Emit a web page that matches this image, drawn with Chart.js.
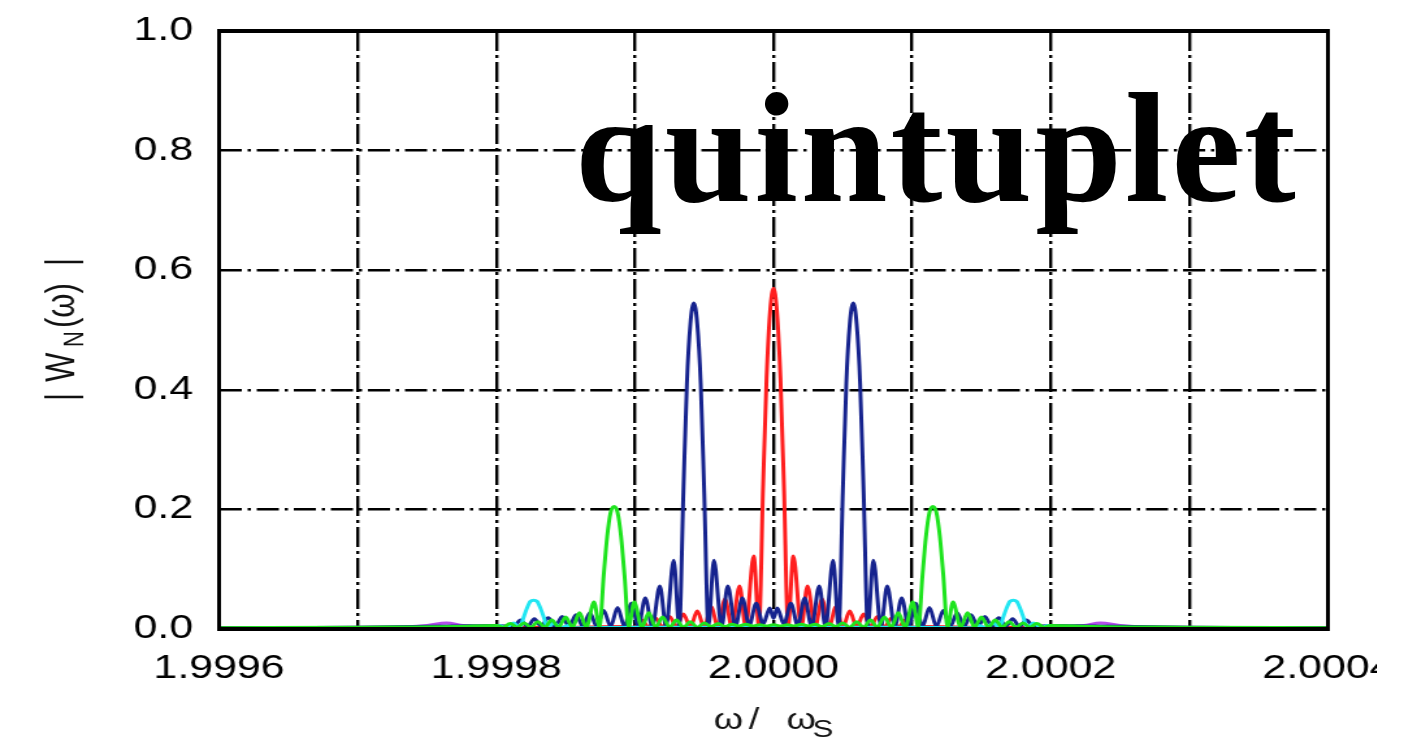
<!DOCTYPE html>
<html>
<head>
<meta charset="utf-8">
<script src="https://cdn.jsdelivr.net/npm/chart.js@4.4.1/dist/chart.umd.min.js"></script>
<style>
  html, body { margin: 0; padding: 0; background: #fff; overflow: hidden; }
  #wrap { position: relative; width: 1421px; height: 747px; overflow: hidden; background: #fff; }
  #c { position: absolute; left: 0; top: 0; transform: scaleX(1.3); transform-origin: 0 0; }
  #tag { position: absolute; left: 575px; top: 71px; font: bold 156px "Liberation Serif", serif;
         line-height: 1; color: #000; letter-spacing: 3px; white-space: nowrap; }
</style>
</head>
<body>
<div id="wrap">
  <canvas id="c" width="1059" height="747"></canvas>
  <div id="tag">quintuplet</div>
</div>
<script>
// Grid positions along ω/ωS and the labels printed under them
const xGridValues = [1.9996, 1.9997, 1.9998, 1.9999, 2.0000, 2.0001, 2.0002, 2.0003, 2.0004];
const xGridLabels = ["1.9996", "", "1.9998", "", "2.0000", "", "2.0002", "", "2.0004"];
const yTickValues = [0.0, 0.2, 0.4, 0.6, 0.8, 1.0];

// |W_N(ω)| for the five components of the quintuplet, as [ω/ωS, value]
const centralLine = [
  [1.99960,0.002],[1.99975,0.002],[1.99985,0.003],[1.999895,0.004],
  [1.999900,0.003],[1.999905,0.015],[1.999910,0.003],[1.999915,0.018],[1.999920,0.003],
  [1.999925,0.021],[1.999930,0.003],[1.999935,0.025],[1.999940,0.003],[1.999945,0.030],
  [1.999950,0.003],[1.999955,0.037],[1.999960,0.003],[1.999965,0.050],[1.999970,0.003],
  [1.9999755,0.072],[1.999980,0.003],[1.9999857,0.122],[1.9999895,0.003],
  [1.9999925,0.24],[1.999995,0.42],[1.9999975,0.53],[2.000000,0.57],
  [2.0000025,0.53],[2.000005,0.42],[2.0000075,0.24],
  [2.0000105,0.003],[2.0000143,0.122],[2.000020,0.003],[2.0000245,0.072],[2.000030,0.003],
  [2.000035,0.050],[2.000040,0.003],[2.000045,0.037],[2.000050,0.003],[2.000055,0.030],
  [2.000060,0.003],[2.000065,0.025],[2.000070,0.003],[2.000075,0.021],[2.000080,0.003],
  [2.000085,0.018],[2.000090,0.003],[2.000095,0.015],[2.000100,0.003],
  [2.000105,0.004],[2.00015,0.003],[2.00025,0.002],[2.00040,0.002]
];

const innerPair = [
  [1.99960,0.002],[1.99970,0.003],[1.99977,0.005],[1.99980,0.006],
  [1.9998125,0.004],[1.9998175,0.015],[1.9998225,0.004],[1.9998275,0.017],[1.9998325,0.004],
  [1.9998375,0.019],[1.9998425,0.004],[1.9998475,0.021],[1.9998525,0.004],[1.9998575,0.024],
  [1.9998625,0.004],[1.9998675,0.027],[1.9998725,0.004],[1.9998775,0.031],[1.9998825,0.004],
  [1.9998875,0.036],[1.9998925,0.004],[1.9998975,0.043],[1.9999025,0.004],[1.9999075,0.052],
  [1.9999125,0.004],[1.9999180,0.072],[1.9999225,0.004],[1.9999280,0.115],[1.9999320,0.004],
  [1.9999350,0.23],[1.9999375,0.41],[1.9999400,0.51],[1.9999425,0.545],
  [1.9999450,0.51],[1.9999475,0.41],[1.9999500,0.23],
  [1.9999530,0.004],[1.9999570,0.115],[1.9999625,0.004],[1.9999670,0.072],[1.9999725,0.004],
  [1.9999775,0.052],[1.9999825,0.006],[1.9999875,0.043],[1.9999925,0.008],[1.9999973,0.035],
  [2.0000000,0.018],
  [2.0000027,0.035],[2.0000075,0.008],[2.0000125,0.043],[2.0000175,0.006],[2.0000225,0.052],
  [2.0000275,0.004],[2.0000330,0.072],[2.0000375,0.004],[2.0000430,0.115],[2.0000470,0.004],
  [2.0000500,0.23],[2.0000525,0.41],[2.0000550,0.51],[2.0000575,0.545],
  [2.0000600,0.51],[2.0000625,0.41],[2.0000650,0.23],
  [2.0000680,0.004],[2.0000720,0.115],[2.0000775,0.004],[2.0000820,0.072],[2.0000875,0.004],
  [2.0000925,0.052],[2.0000975,0.004],[2.0001025,0.043],[2.0001075,0.004],[2.0001125,0.036],
  [2.0001175,0.004],[2.0001225,0.031],[2.0001275,0.004],[2.0001325,0.027],[2.0001375,0.004],
  [2.0001425,0.024],[2.0001475,0.004],[2.0001525,0.021],[2.0001575,0.004],[2.0001625,0.019],
  [2.0001675,0.004],[2.0001725,0.017],[2.0001775,0.004],[2.0001825,0.015],[2.0001875,0.004],
  [2.00020,0.006],[2.00023,0.005],[2.00030,0.003],[2.00040,0.002]
];

const middlePair = [
  [1.99960,0.002],[1.99970,0.003],[1.99977,0.004],[1.99980,0.006],
  [1.999805,0.003],[1.999810,0.009],[1.999815,0.003],[1.999820,0.010],[1.999825,0.003],
  [1.999830,0.012],[1.999835,0.003],[1.999840,0.015],[1.999845,0.003],[1.999850,0.020],
  [1.999855,0.003],[1.999860,0.027],[1.999865,0.003],[1.9998705,0.045],[1.9998745,0.003],
  [1.9998775,0.09],[1.999880,0.155],[1.9998825,0.195],[1.999885,0.205],
  [1.9998875,0.195],[1.999890,0.155],[1.9998925,0.09],
  [1.9998955,0.003],[1.9998995,0.045],[1.999905,0.003],[1.999910,0.027],[1.999915,0.003],
  [1.999920,0.020],[1.999925,0.003],[1.999930,0.015],[1.999935,0.003],[1.999940,0.012],
  [1.999945,0.003],[1.999950,0.010],[1.999955,0.004],[1.999960,0.009],[1.999965,0.004],
  [1.999970,0.008],[1.999975,0.005],[1.999980,0.008],[1.999985,0.005],[1.999990,0.007],
  [1.999995,0.005],[2.000000,0.007],[2.000005,0.005],[2.000010,0.007],[2.000015,0.005],
  [2.000020,0.008],[2.000025,0.005],[2.000030,0.008],[2.000035,0.004],[2.000040,0.009],
  [2.000045,0.004],[2.000050,0.010],[2.000055,0.003],[2.000060,0.012],[2.000065,0.003],
  [2.000070,0.015],[2.000075,0.003],[2.000080,0.020],[2.000085,0.003],[2.000090,0.027],
  [2.000095,0.003],[2.0001005,0.045],[2.0001045,0.003],
  [2.0001075,0.09],[2.000110,0.155],[2.0001125,0.195],[2.000115,0.205],
  [2.0001175,0.195],[2.000120,0.155],[2.0001225,0.09],
  [2.0001255,0.003],[2.0001295,0.045],[2.000135,0.003],[2.000140,0.027],[2.000145,0.003],
  [2.000150,0.020],[2.000155,0.003],[2.000160,0.015],[2.000165,0.003],[2.000170,0.012],
  [2.000175,0.003],[2.000180,0.010],[2.000185,0.003],[2.000190,0.009],[2.000195,0.003],
  [2.00020,0.006],[2.00023,0.004],[2.00030,0.003],[2.00040,0.002]
];

const outerPair = [
  [1.99960,0.001],[1.99975,0.002],[1.999797,0.002],[1.999802,0.006],[1.999807,0.002],
  [1.9998125,0.010],[1.999817,0.002],[1.9998195,0.018],[1.999822,0.034],[1.9998245,0.046],
  [1.999827,0.048],[1.9998295,0.046],[1.999832,0.034],[1.9998345,0.018],[1.999837,0.002],
  [1.9998415,0.010],[1.999847,0.002],[1.999852,0.006],[1.999857,0.002],
  [1.99990,0.003],[1.99995,0.003],[2.00000,0.003],[2.00005,0.003],[2.00010,0.003],
  [2.000143,0.002],[2.000148,0.006],[2.000153,0.002],[2.0001585,0.010],[2.000163,0.002],
  [2.0001655,0.018],[2.000168,0.034],[2.0001705,0.046],[2.000173,0.048],[2.0001755,0.046],
  [2.000178,0.034],[2.0001805,0.018],[2.000183,0.002],[2.0001875,0.010],[2.000193,0.002],
  [2.000198,0.006],[2.000203,0.002],[2.00025,0.002],[2.00040,0.001]
];

const farPair = [
  [1.99960,0.002],[1.99972,0.003],[1.999750,0.006],[1.999764,0.010],[1.999776,0.006],
  [1.99979,0.003],[1.99981,0.002],[2.00000,0.001],[2.00019,0.002],[2.00021,0.003],
  [2.000224,0.006],[2.000236,0.010],[2.000250,0.006],[2.00028,0.003],[2.00040,0.002]
];

const seriesStyle = (data, color) => ({
  data, borderColor: color, backgroundColor: color, borderWidth: 3,
  pointRadius: 0, fill: false, cubicInterpolationMode: 'monotone'
});

// Frame around the plotting area
const frame = {
  id: 'frame',
  afterDatasetsDraw(chart) {
    const { ctx, chartArea: a } = chart;
    ctx.save();
    ctx.strokeStyle = '#000';
    ctx.lineWidth = 3;
    ctx.beginPath();
    ctx.moveTo(a.left, a.top - 2); ctx.lineTo(a.left, a.bottom + 2);
    ctx.moveTo(a.right, a.top - 2); ctx.lineTo(a.right, a.bottom + 2);
    ctx.stroke();
    ctx.lineWidth = 4;
    ctx.beginPath();
    ctx.moveTo(a.left - 1.5, a.top); ctx.lineTo(a.right + 1.5, a.top);
    ctx.moveTo(a.left - 1.5, a.bottom); ctx.lineTo(a.right + 1.5, a.bottom);
    ctx.stroke();
    ctx.restore();
  }
};

// Axis titles with subscripts
const axisTitles = {
  id: 'axisTitles',
  afterDraw(chart) {
    const { ctx, chartArea: a } = chart;
    const cx = (a.left + a.right) / 2;
    const cy = (a.top + a.bottom) / 2;
    const F = 'px "Liberation Sans", Arial, sans-serif';
    ctx.save();
    ctx.fillStyle = '#111';
    ctx.textBaseline = 'alphabetic';
    ctx.textAlign = 'left';
    // ω / ωS
    ctx.font = '29' + F;
    ctx.fillText('ω', cx - 46, 729);
    ctx.fillText('/', cx - 19, 729);
    ctx.fillText('ω', cx + 10, 729);
    ctx.font = '24' + F;
    ctx.fillText('S', cx + 30, 737);
    // | W_N(ω) |
    ctx.translate(57, cy);
    ctx.rotate(-Math.PI / 2);
    ctx.font = '31' + F;
    ctx.fillText('|', -71, 0);
    ctx.fillText('W', -52, 0);
    ctx.font = '22' + F;
    ctx.fillText('N', -17, 7);
    ctx.font = '31' + F;
    ctx.fillText('(ω)', 2, 0);
    ctx.fillText('|', 64, 0);
    ctx.restore();
  }
};

new Chart(document.getElementById('c'), {
  type: 'line',
  data: {
    datasets: [
      seriesStyle(middlePair, '#1ee41e'),
      seriesStyle(outerPair, '#22e6f2'),
      seriesStyle(innerPair, '#16238e'),
      seriesStyle(centralLine, '#ff1e1e'),
      seriesStyle(farPair, '#b24fe8')
    ]
  },
  options: {
    responsive: false,
    animation: false,
    events: [],
    layout: { padding: { top: 31, right: 37.5, left: 0, bottom: 0 } },
    plugins: { legend: { display: false }, tooltip: { enabled: false } },
    scales: {
      x: {
        type: 'linear',
        min: xGridValues[0],
        max: xGridValues[xGridValues.length - 1],
        afterBuildTicks(scale) { scale.ticks = xGridValues.map(v => ({ value: v })); },
        afterFit(scale) { scale.height = 118; scale.paddingLeft = 0; scale.paddingRight = 0; },
        grid: { color: '#000', lineWidth: 2.4, drawTicks: false },
        border: { display: false, dash: [20, 4, 3, 4] },
        ticks: {
          autoSkip: false, maxRotation: 0, padding: 20, color: '#000',
          font: { family: '"Liberation Sans", Arial, sans-serif', size: 33 },
          callback(value, index) { return xGridLabels[index]; }
        }
      },
      y: {
        min: 0, max: 1,
        afterBuildTicks(scale) { scale.ticks = yTickValues.map(v => ({ value: v })); },
        afterFit(scale) { scale.width = 168.5; scale.paddingTop = 0; scale.paddingBottom = 0; },
        grid: { color: '#000', lineWidth: 2.6, drawTicks: false },
        border: { display: false, dash: [17, 4.5, 2.5, 4.5] },
        ticks: {
          padding: 20, color: '#000',
          font: { family: '"Liberation Sans", Arial, sans-serif', size: 33 },
          callback(value) { return Number(value).toFixed(1); }
        }
      }
    }
  },
  plugins: [frame, axisTitles]
});
</script>
</body>
</html>
